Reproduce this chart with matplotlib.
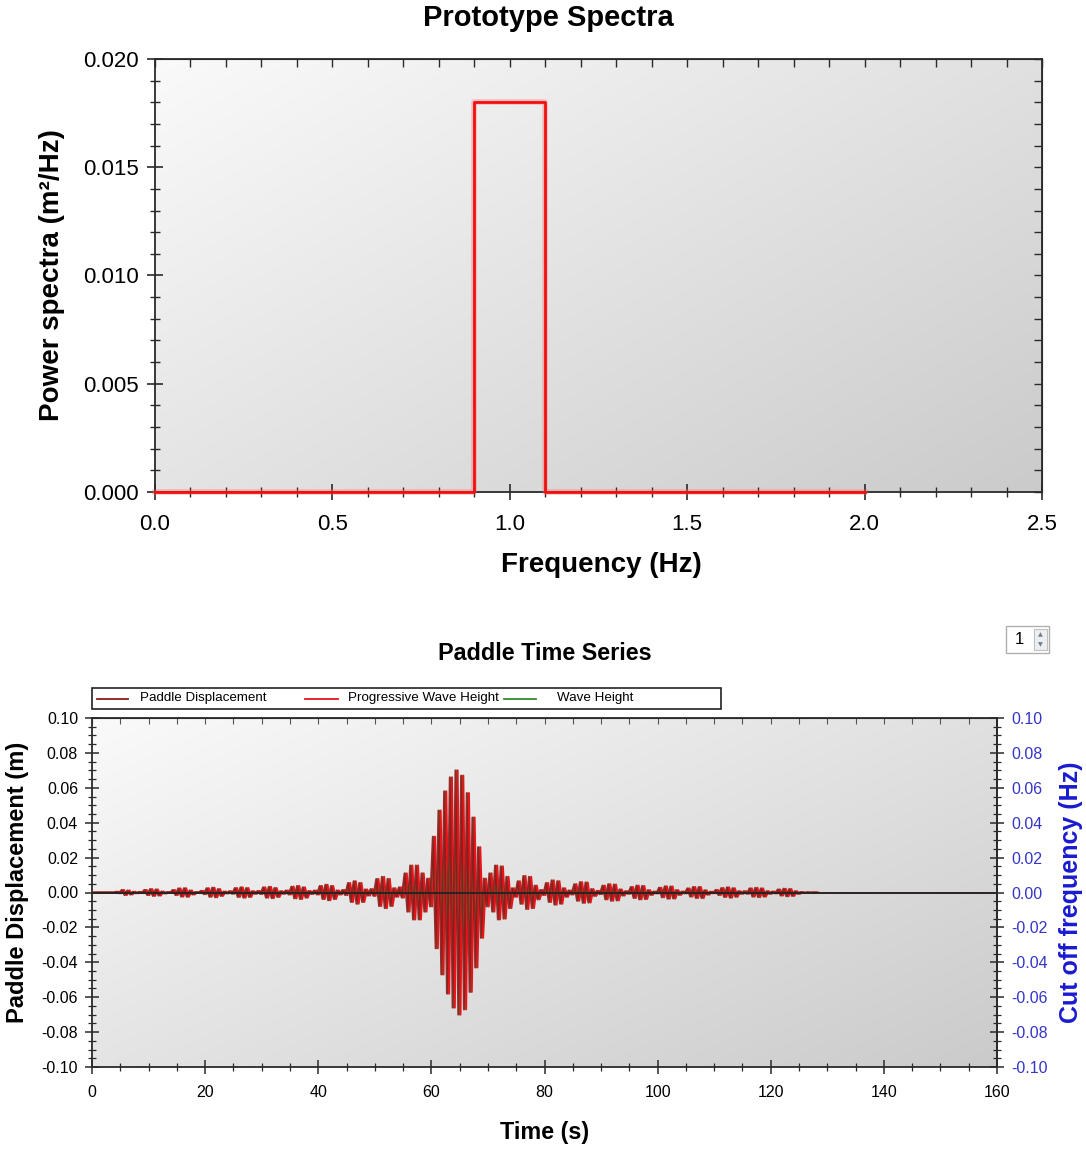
import numpy as np
import matplotlib
matplotlib.use('Agg')
import matplotlib.pyplot as plt
from matplotlib import font_manager
from matplotlib.patches import Rectangle
from matplotlib.lines import Line2D
from matplotlib.ticker import MultipleLocator, FormatStrFormatter, FuncFormatter

# ---------------- data ----------------
# Prototype spectrum (frequency in Hz, power in m^2/Hz)
spec_freq = [0.0, 0.9, 0.9, 1.1, 1.1, 2.0]
spec_power = [0.0, 0.0, 0.018, 0.018, 0.0, 0.0]

# Paddle time series: peak amplitude of each 1-s wave cycle, starting at t = 4 s
cycle_start = 4
cycle_end_time = 128
cycle_amp = [
    0.0005, 0.0015, 0.0012, 0.0005, 0.0004, 0.0015, 0.0020, 0.0018, 0.0006, 0.0003,   # 4-13
    0.0015, 0.0024, 0.0025, 0.0012, 0.0003, 0.0010, 0.0025, 0.0028, 0.0020, 0.0006,   # 14-23
    0.0008, 0.0026, 0.0030, 0.0026, 0.0008, 0.0009, 0.0030, 0.0033, 0.0026, 0.0008,   # 24-33
    0.0012, 0.0034, 0.0038, 0.0030, 0.0009, 0.0012, 0.0038, 0.0045, 0.0038, 0.0012,   # 34-43
    0.0015, 0.0055, 0.0065, 0.0055, 0.0018, 0.0020, 0.0078, 0.0090, 0.0078, 0.0025,   # 44-53
    0.0030, 0.0110, 0.0155, 0.0155, 0.0110, 0.0080, 0.0320, 0.0470, 0.0580, 0.0660,   # 54-63
    0.0700, 0.0670, 0.0570, 0.0430, 0.0260, 0.0080, 0.0110, 0.0155, 0.0150, 0.0090,   # 64-73
    0.0025, 0.0065, 0.0095, 0.0090, 0.0040, 0.0015, 0.0055, 0.0070, 0.0065, 0.0025,   # 74-83
    0.0012, 0.0048, 0.0060, 0.0058, 0.0020, 0.0010, 0.0040, 0.0048, 0.0046, 0.0018,   # 84-93
    0.0008, 0.0032, 0.0040, 0.0038, 0.0014, 0.0006, 0.0028, 0.0036, 0.0035, 0.0014,   # 94-103
    0.0006, 0.0024, 0.0032, 0.0032, 0.0013, 0.0005, 0.0015, 0.0026, 0.0030, 0.0025,   # 104-113
    0.0008, 0.0008, 0.0024, 0.0027, 0.0024, 0.0008, 0.0006, 0.0018, 0.0022, 0.0020,   # 114-123
    0.0008, 0.0003, 0.0001, 0.0000,                                                    # 124-127
]

legend_labels = ['Paddle Displacement', 'Progressive Wave Height', 'Wave Height']
series_colors = ['#8b1a1a', '#e8141a', '#2e8b2e']

# ---------------- fonts ----------------
names = {f.name for f in font_manager.fontManager.ttflist}
MAIN = 'Liberation Sans' if 'Liberation Sans' in names else 'DejaVu Sans'
if 'Liberation Sans Narrow' in names:
    NARROW, NS = 'Liberation Sans Narrow', 1.0
else:
    NARROW, NS = MAIN, 0.84
plt.rcParams['font.family'] = [MAIN, 'DejaVu Sans']
plt.rcParams['axes.unicode_minus'] = False

W, H = 1086, 1149
fig = plt.figure(figsize=(W / 100, H / 100), dpi=100)
fig.patch.set_facecolor('white')


def fx(px):
    return px / W


def fy(py):
    return 1 - py / H


def gradient(ax):
    xs = np.linspace(0, 1, 200)
    ys = np.linspace(1, 0, 200)
    X, Y = np.meshgrid(xs, ys)
    G = 0.98 - 0.10 * X - 0.085 * (1 - Y)
    img = np.dstack([G, G, G])
    ax.imshow(img, extent=[0, 1, 0, 1], transform=ax.transAxes, aspect='auto',
              zorder=0, interpolation='bilinear')


def fmt2(v, p):
    return '0.00' if abs(v) < 1e-9 else f'{v:.2f}'


SPC = '#2a2a2a'

# ================= top chart =================
ax1 = fig.add_axes([fx(155), fy(492), fx(1042 - 155), (492 - 59) / H])
gradient(ax1)
ax1.plot(spec_freq, spec_power, color='#ff6060', lw=4.0, alpha=0.35, zorder=3,
         solid_joinstyle='round', clip_on=False)
ax1.plot(spec_freq, spec_power, color='#f01010', lw=2.0, zorder=4,
         solid_joinstyle='round', clip_on=False)
ax1.set_xlim(0, 2.5)
ax1.set_ylim(0, 0.020)
ax1.xaxis.set_major_locator(MultipleLocator(0.5))
ax1.xaxis.set_minor_locator(MultipleLocator(0.1))
ax1.yaxis.set_major_locator(MultipleLocator(0.005))
ax1.yaxis.set_minor_locator(MultipleLocator(0.001))
ax1.xaxis.set_major_formatter(FormatStrFormatter('%.1f'))
ax1.yaxis.set_major_formatter(FormatStrFormatter('%.3f'))
ax1.tick_params(which='major', direction='inout', length=11, width=1.2, color=SPC,
                labelsize=16, pad=6, top=False, right=False)
ax1.tick_params(which='minor', direction='inout', length=7, width=1.0, color=SPC,
                top=False, right=False)
ax1.tick_params(axis='x', which='major', pad=10)
for s in ax1.spines.values():
    s.set_color(SPC)
    s.set_linewidth(1.3)
sx = ax1.secondary_xaxis('top')
sx.xaxis.set_major_locator(MultipleLocator(0.1))
sx.tick_params(direction='in', length=6, width=1.0, color=SPC, labeltop=False)
sx.spines['top'].set_color(SPC)
sy = ax1.secondary_yaxis('right')
sy.yaxis.set_major_locator(MultipleLocator(0.001))
sy.tick_params(direction='in', length=6, width=1.0, color=SPC, labelright=False)
sy.spines['right'].set_color(SPC)

fig.text(fx(548), fy(18), 'Prototype Spectra', ha='center', va='center',
         fontsize=21, fontweight='bold')
fig.text(fx(52), fy(275), 'Power spectra (m²/Hz)', ha='center', va='center',
         rotation=90, fontsize=20, fontweight='bold')
fig.text(fx(601), fy(565), 'Frequency (Hz)', ha='center', va='center',
         fontsize=20, fontweight='bold')

# ================= bottom chart =================
ax2 = fig.add_axes([fx(92), fy(1067), fx(997 - 92), (1067 - 718) / H])
gradient(ax2)

t_pts = [0.0, float(cycle_start)]
y_pts = [0.0, 0.0]
for i, a in enumerate(cycle_amp):
    t = cycle_start + i
    t_pts += [t + 0.25, t + 0.75]
    y_pts += [a, -a]
t_pts += [float(cycle_end_time)]
y_pts += [0.0]
t_arr = np.array(t_pts)
y_arr = np.array(y_pts)

ax2.plot(t_arr + 0.2, y_arr, color=series_colors[2], lw=1.1, zorder=3)
ax2.plot(t_arr + 0.4, y_arr, color=series_colors[1], lw=1.4, zorder=4)
ax2.plot(t_arr, y_arr, color=series_colors[0], lw=1.4, zorder=5, alpha=0.9)
ax2.axhline(0, color='#2b2222', lw=1.4, zorder=6)

TL = 13 if NS == 1.0 else 11.5
ax2.set_xlim(0, 160)
ax2.set_ylim(-0.10, 0.10)
ax2.xaxis.set_major_locator(MultipleLocator(20))
ax2.xaxis.set_minor_locator(MultipleLocator(5))
ax2.yaxis.set_major_locator(MultipleLocator(0.02))
ax2.yaxis.set_minor_locator(MultipleLocator(0.005))
ax2.yaxis.set_major_formatter(FuncFormatter(fmt2))
ax2.tick_params(which='major', direction='inout', length=10, width=1.1, color=SPC,
                labelsize=TL, pad=5, top=False)
ax2.tick_params(which='minor', direction='inout', length=6, width=0.9, color=SPC, top=False)
ax2.tick_params(axis='x', which='major', pad=8)
for lab in ax2.get_xticklabels() + ax2.get_yticklabels():
    lab.set_fontfamily([NARROW, 'DejaVu Sans'])
for s in ax2.spines.values():
    s.set_color(SPC)
    s.set_linewidth(1.3)
sx2 = ax2.secondary_xaxis('top')
sx2.xaxis.set_major_locator(MultipleLocator(5))
sx2.tick_params(direction='in', length=4, width=0.8, color='#555555', labeltop=False)
sx2.spines['top'].set_color(SPC)

ax3 = ax2.twinx()
ax3.set_ylim(-0.10, 0.10)
ax3.yaxis.set_major_locator(MultipleLocator(0.02))
ax3.yaxis.set_minor_locator(MultipleLocator(0.005))
ax3.yaxis.set_major_formatter(FuncFormatter(fmt2))
ax3.tick_params(which='major', direction='inout', length=10, width=1.1, color=SPC,
                labelcolor='#3535c8', labelsize=TL, pad=5)
ax3.tick_params(which='minor', direction='inout', length=6, width=0.9, color=SPC)
for lab in ax3.get_yticklabels():
    lab.set_fontfamily([NARROW, 'DejaVu Sans'])
for s in ax3.spines.values():
    s.set_visible(False)
ax3.spines['right'].set_visible(True)
ax3.spines['right'].set_color(SPC)
ax3.spines['right'].set_linewidth(1.3)

fig.text(fx(545), fy(653), 'Paddle Time Series', ha='center', va='center',
         fontsize=20 * NS, fontweight='bold', family=[NARROW, 'DejaVu Sans'])
fig.text(fx(545), fy(1133), 'Time (s)', ha='center', va='center',
         fontsize=20 * NS, fontweight='bold', family=[NARROW, 'DejaVu Sans'])
fig.text(fx(18), fy(882), 'Paddle Displacement (m)', ha='center', va='center',
         rotation=90, fontsize=17, fontweight='bold')
fig.text(fx(1071), fy(892), 'Cut off frequency (Hz)', ha='center', va='center',
         rotation=90, fontsize=18, fontweight='bold', color='#1a1ad0')

# legend box above plot
fig.patches.append(Rectangle((fx(92), fy(709)), fx(721 - 92), (709 - 688) / H,
                             transform=fig.transFigure, facecolor='white',
                             edgecolor='#222222', lw=1.2))
leg_line_x = [(97, 128), (305, 338), (504, 536)]
leg_text_x = [140, 348, 557]
LEGFS = 12 if NS == 1.0 else 9.6
for (x0, x1), tx, lab, col in zip(leg_line_x, leg_text_x, legend_labels, series_colors):
    fig.lines.append(Line2D([fx(x0), fx(x1)], [fy(698.5), fy(698.5)],
                            transform=fig.transFigure, color=col, lw=1.3))
    fig.text(fx(tx), fy(698.5), lab, ha='left', va='center',
             fontsize=LEGFS, family=[NARROW, 'DejaVu Sans'])

# spinner control at top right
fig.patches.append(Rectangle((fx(1006), fy(653)), fx(1049 - 1006), (653 - 626) / H,
                             transform=fig.transFigure, facecolor='white',
                             edgecolor='#b0b0b0', lw=1.0))
fig.patches.append(Rectangle((fx(1034), fy(650)), fx(1047 - 1034), (650 - 629) / H,
                             transform=fig.transFigure, facecolor='#eeeeee',
                             edgecolor='#c0c0c0', lw=0.8))
fig.text(fx(1019), fy(639.5), '1', ha='center', va='center', fontsize=12)
fig.text(fx(1040.5), fy(634.5), '▲', ha='center', va='center', fontsize=4.5,
         color='#6a7a9a', family='DejaVu Sans')
fig.text(fx(1040.5), fy(645), '▼', ha='center', va='center', fontsize=4.5,
         color='#6a7a9a', family='DejaVu Sans')

fig.savefig('out.png', dpi=100, facecolor='white')
